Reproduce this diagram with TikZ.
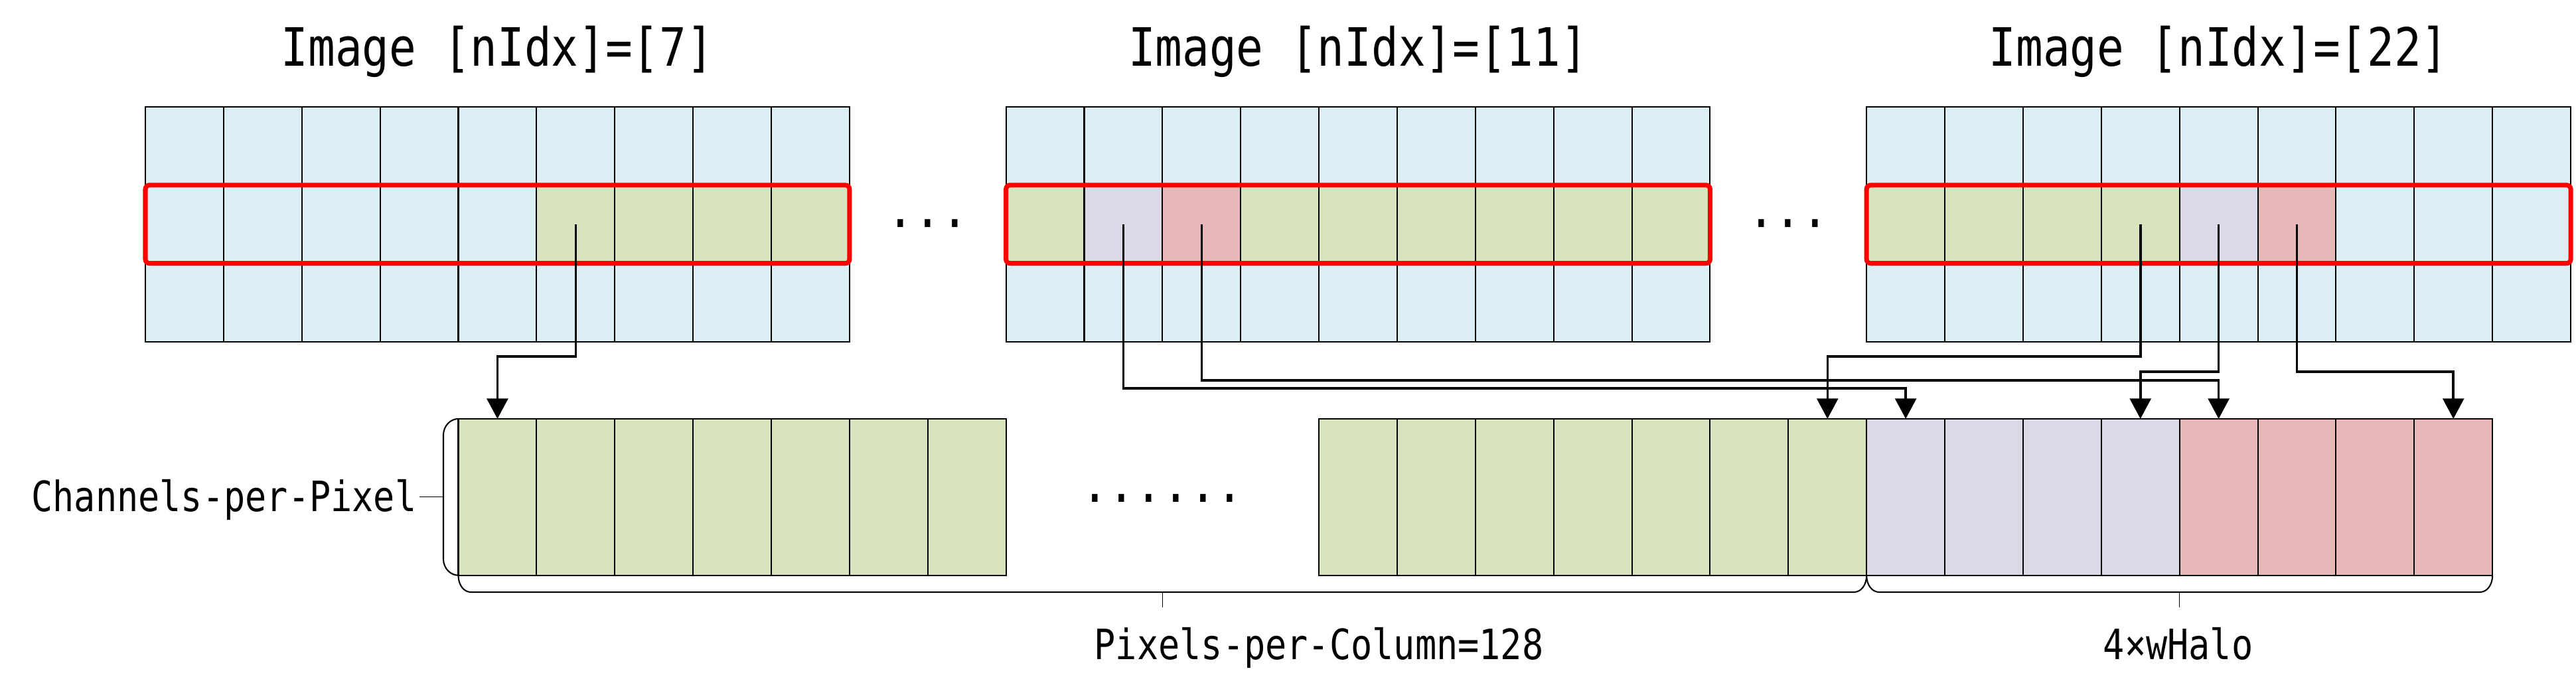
\documentclass[tikz,border=0pt]{standalone}
\usepackage{fontspec}
\usetikzlibrary{arrows.meta}
\newfontfamily\diagfont[FakeStretch=0.85]{DejaVu Sans Mono}
\definecolor{cellblue}{RGB}{219,238,243}
\definecolor{cellgreen}{RGB}{215,228,189}
\definecolor{cellviolet}{RGB}{221,216,230}
\definecolor{cellpink}{RGB}{230,185,184}

\begin{document}
\begin{tikzpicture}[
        cell/.style={draw,line width=0.5pt,minimum width=1cm,minimum height=1cm,inner sep=0pt,outer sep=0pt},
        slot/.style={cell,minimum height=2cm},
        rowbox/.style={draw=red,line width=1.7pt,rounded corners=1.5pt},
        wire/.style={line width=0.85pt,-{Triangle[length=0.26cm,width=0.27cm]}},
        brace/.style={line width=0.5pt},
        bracetip/.style={line width=0.3pt},
        heading/.style={font={\diagfont\fontsize{19.2pt}{22pt}\selectfont},inner sep=0pt},
        lbl/.style={font={\diagfont\fontsize{15.2pt}{18pt}\selectfont},inner sep=0pt}
    ]

    \useasboundingbox (0,0) rectangle (32.926,-8.857);

    \foreach \g in {1,2,3}
        \foreach \r in {1,2,3}
            \foreach \c in {1,...,9}
                \node[cell,fill=cellblue] (I\g\r\c) at ({1.858+11*(\g-1)+\c-0.5},{-0.866-\r}) {};

    \foreach \c in {6,...,9} \node[cell,fill=cellgreen] (I12\c) at (I12\c) {};
    \foreach \c in {1,4,5,...,9} \node[cell,fill=cellgreen] (I22\c) at (I22\c) {};
    \node[cell,fill=cellviolet] (I222) at (I222) {};
    \node[cell,fill=cellpink] (I223) at (I223) {};
    \foreach \c in {1,...,4} \node[cell,fill=cellgreen] (I32\c) at (I32\c) {};
    \node[cell,fill=cellviolet] (I325) at (I325) {};
    \node[cell,fill=cellpink] (I326) at (I326) {};

    \foreach \g in {1,2,3}
        \draw[rowbox] (I\g21.north west) rectangle (I\g29.south east);

    \node[heading,anchor=base] (N1) at (6.358,-0.848) {Image [nIdx]=[7]};
    \node[heading,anchor=base] (N2) at (17.358,-0.848) {Image [nIdx]=[11]};
    \node[heading,anchor=base] (N3) at (28.358,-0.848) {Image [nIdx]=[22]};

    \node[heading,anchor=base] (D1) at (11.858,-2.91) {...};
    \node[heading,anchor=base] (D2) at (22.858,-2.91) {...};

    \foreach \i in {1,...,7} \node[slot,fill=cellgreen] (S\i) at (5.358+\i,-6.353) {};
    \foreach \i in {1,...,7} \node[slot,fill=cellgreen] (T\i) at (16.358+\i,-6.353) {};
    \foreach \i in {8,...,11} \node[slot,fill=cellviolet] (T\i) at (16.358+\i,-6.353) {};
    \foreach \i in {12,...,15} \node[slot,fill=cellpink] (T\i) at (16.358+\i,-6.353) {};

    \node[heading,anchor=base] (D3) at (14.858,-6.42) {......};

    \coordinate (Y1) at (0,-4.556);
    \coordinate (Y2) at (0,-4.751);
    \coordinate (Y3) at (0,-4.861);
    \coordinate (Y4) at (0,-4.963);

    \draw[wire] (I126.center) -- (I126.center |- Y1) -| (S1.north);
    \draw[wire] (I324.center) -- (I324.center |- Y1) -| (T7.north);
    \draw[wire] (I325.center) -- (I325.center |- Y2) -| (T11.north);
    \draw[wire] (I326.center) -- (I326.center |- Y2) -| (T15.north);
    \draw[wire] (I223.center) -- (I223.center |- Y3) -| (T12.north);
    \draw[wire] (I222.center) -- (I222.center |- Y4) -| (T8.north);

    \draw[brace] (S1.north west) .. controls (5.76,-5.353) and (5.667,-5.44) .. (5.667,-5.563)
        -- (5.667,-7.143) .. controls (5.667,-7.266) and (5.76,-7.353) .. (S1.south west);
    \coordinate (B1) at (5.36,-6.353);
    \draw[bracetip] (5.667,-6.353) -- (B1);

    \draw[brace] (S1.south west) .. controls (5.858,-7.48) and (5.93,-7.568) .. (6.02,-7.568)
        -- (23.696,-7.568) .. controls (23.786,-7.568) and (23.858,-7.48) .. (T8.south west);
    \draw[brace] (T8.south west) .. controls (23.858,-7.48) and (23.93,-7.568) .. (24.02,-7.568)
        -- (31.696,-7.568) .. controls (31.786,-7.568) and (31.858,-7.48) .. (T15.south east);
    \coordinate (B2) at (14.858,-7.763);
    \coordinate (B3) at (27.858,-7.763);
    \draw[bracetip] (14.858,-7.568) -- (B2);
    \draw[bracetip] (27.858,-7.568) -- (B3);

    \node[lbl,anchor=base east] (L1) at (5.33,-6.533) {Channels-per-Pixel};
    \node[lbl,anchor=base] (L2) at (16.858,-8.425) {Pixels-per-Column=128};
    \node[lbl,anchor=base] (L3) at (27.84,-8.425) {4×wHalo};

\end{tikzpicture}
\end{document}
